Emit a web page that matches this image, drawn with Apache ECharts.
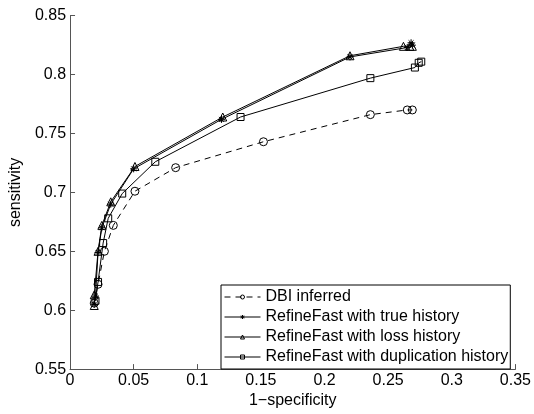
<!DOCTYPE html>
<html>
<head>
<meta charset="utf-8">
<script src="https://cdn.jsdelivr.net/npm/echarts@6/dist/echarts.min.js"></script>
<style>
html,body{margin:0;padding:0;background:#fff;}
#chart{width:534px;height:414px;}
</style>
</head>
<body>
<div id="chart"></div>
<script>
// 1-specificity (x) and sensitivity (y) for each method
var dbiX  = [0.019, 0.022, 0.027, 0.034, 0.051, 0.083, 0.152, 0.236, 0.265, 0.269];
var dbiY  = [0.606, 0.622, 0.650, 0.672, 0.701, 0.721, 0.743, 0.766, 0.770, 0.770];
var trueX = [0.019, 0.020, 0.022, 0.025, 0.032, 0.050, 0.119, 0.220, 0.265, 0.268, 0.269];
var trueY = [0.605, 0.612, 0.649, 0.670, 0.690, 0.720, 0.762, 0.815, 0.823, 0.827, 0.825];
var lossX = [0.019, 0.019, 0.022, 0.025, 0.032, 0.051, 0.120, 0.220, 0.262, 0.267, 0.269];
var lossY = [0.604, 0.613, 0.650, 0.672, 0.692, 0.722, 0.764, 0.816, 0.824, 0.824, 0.824];
var dupX  = [0.020, 0.022, 0.026, 0.030, 0.041, 0.067, 0.134, 0.236, 0.271, 0.274, 0.276];
var dupY  = [0.608, 0.624, 0.657, 0.678, 0.699, 0.726, 0.764, 0.797, 0.806, 0.810, 0.811];
var seriesNames = ['DBI inferred', 'RefineFast with true history', 'RefineFast with loss history', 'RefineFast with duplication history'];

function pairs(xs, ys) { return xs.map(function (x, i) { return [x, ys[i]]; }); }

var FONT = 'Liberation Sans, Arial, sans-serif';
var asterisk = 'path://M5,0L5,10M0,5L10,5M1.5,1.5L8.5,8.5M1.5,8.5L8.5,1.5';

function mkSeries(name, data, symbol, size, dashed) {
  return {
    name: name,
    type: 'line',
    data: data,
    symbol: symbol,
    symbolSize: size,
    showAllSymbol: true,
    animation: false,
    color: '#000',
    lineStyle: { color: '#000', width: 1, type: dashed ? [6, 5] : 'solid' },
    itemStyle: { color: 'rgba(0,0,0,0)', borderColor: '#000', borderWidth: 1 }
  };
}

var chart = echarts.init(document.getElementById('chart'));
chart.setOption({
  backgroundColor: '#fff',
  animation: false,
  grid: { left: 65.7, right: 15.7, top: 15.7, bottom: 40.5 },
  xAxis: {
    type: 'value', min: 0, max: 0.35, interval: 0.05,
    name: '1\u2212specificity', nameLocation: 'middle', nameGap: 17,
    nameTextStyle: { fontFamily: FONT, fontSize: 16, color: '#000' },
    axisLine: { show: true, lineStyle: { color: '#555', width: 1 } },
    axisTick: { show: true, inside: true, length: 5, lineStyle: { color: '#555' } },
    axisLabel: { fontFamily: FONT, fontSize: 16, color: '#000', margin: 3 },
    splitLine: { show: false }
  },
  yAxis: {
    type: 'value', min: 0.55, max: 0.85, interval: 0.05,
    name: 'sensitivity', nameLocation: 'middle', nameGap: 40,
    nameTextStyle: { fontFamily: FONT, fontSize: 16, color: '#000' },
    axisLine: { show: true, lineStyle: { color: '#555', width: 1 } },
    axisTick: { show: true, inside: true, length: 5, lineStyle: { color: '#555' } },
    axisLabel: { fontFamily: FONT, fontSize: 16, color: '#000', margin: 4,
      formatter: function (v) { return String(+v.toFixed(2)); } },
    splitLine: { show: false }
  },
  legend: {
    orient: 'vertical', left: 221, top: 285,
    padding: [4, 2, 4, 3], itemGap: 4, itemWidth: 36, itemHeight: 5,
    borderColor: '#000', borderWidth: 1, backgroundColor: '#fff',
    textStyle: { fontFamily: FONT, fontSize: 16, color: '#000', lineHeight: 16 },
    lineStyle: { width: 1 },
    itemStyle: { borderWidth: 1 },
    data: seriesNames
  },
  series: [
    mkSeries(seriesNames[0], pairs(dbiX, dbiY), 'circle', 8, true),
    mkSeries(seriesNames[1], pairs(trueX, trueY), asterisk, 7, false),
    mkSeries(seriesNames[2], pairs(lossX, lossY), 'triangle', 8, false),
    mkSeries(seriesNames[3], pairs(dupX, dupY), 'rect', 7, false)
  ]
});
</script>
</body>
</html>
